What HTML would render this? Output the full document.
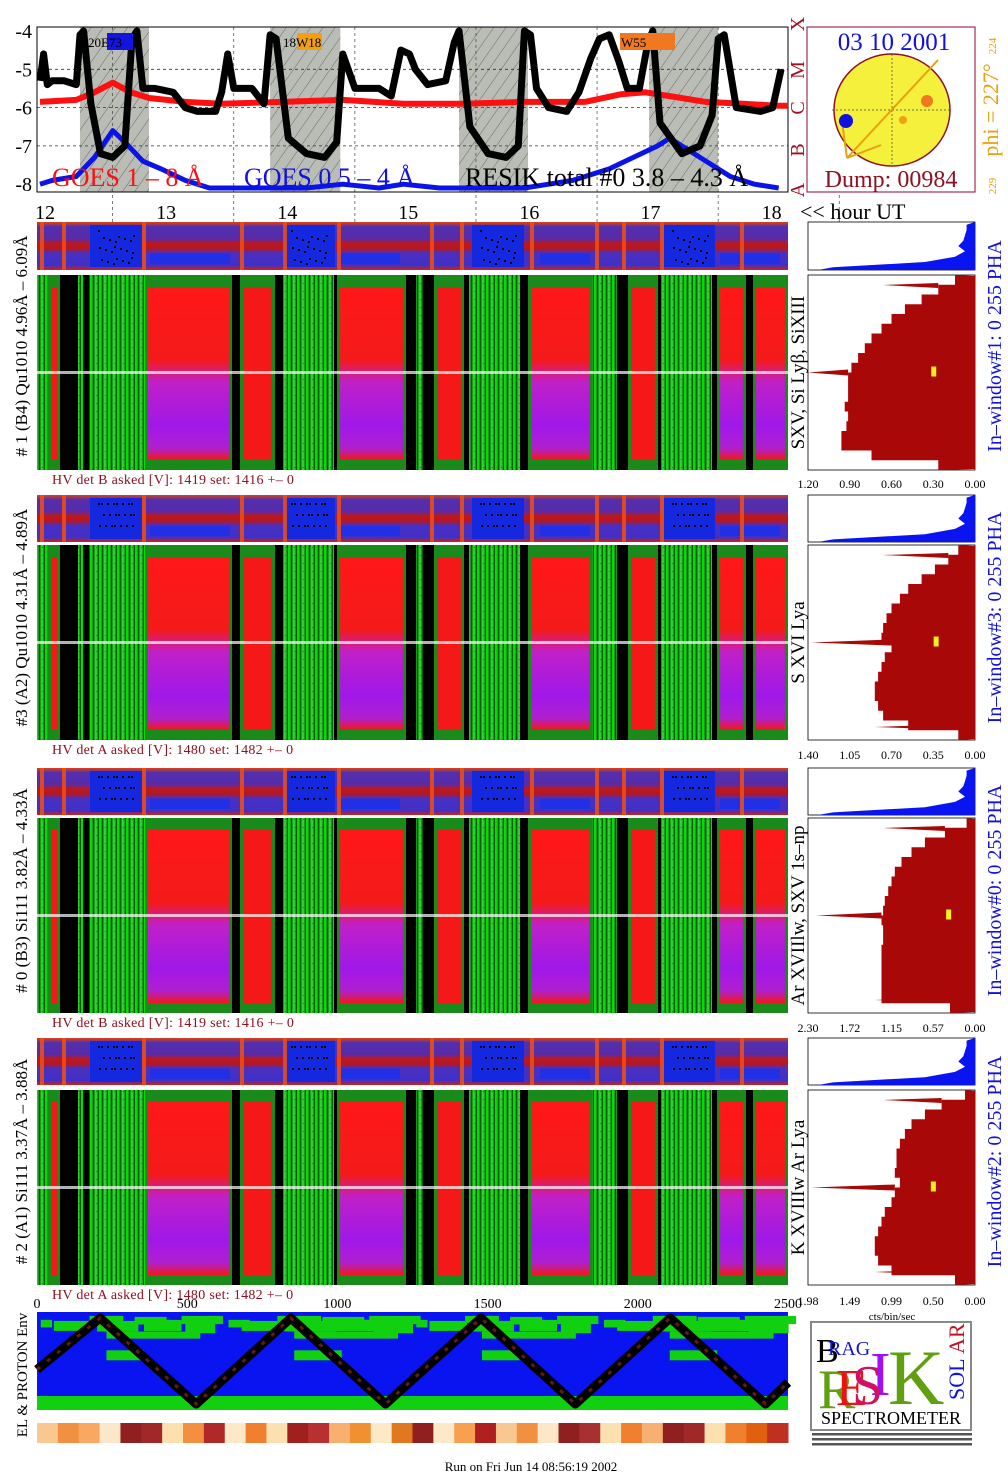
<!DOCTYPE html>
<html><head><meta charset="utf-8"><style>
html,body{margin:0;padding:0;background:#fff;}
svg{display:block;font-family:"Liberation Serif",serif;}
</style></head><body>
<svg id="s" width="1008" height="1480" viewBox="0 0 1008 1480" xmlns="http://www.w3.org/2000/svg">
<defs>
<pattern id="hatch" width="10" height="10" patternUnits="userSpaceOnUse" patternTransform="rotate(35)"><rect width="10" height="10" fill="#b9bdb5"/><line x1="0" y1="0" x2="0" y2="10" stroke="#555" stroke-width="0.8"/></pattern>
<pattern id="grn" width="9" height="8" patternUnits="userSpaceOnUse"><rect width="9" height="8" fill="#1a9a1a"/><rect x="0" width="2" height="8" fill="#00e000"/><rect x="3" width="1" height="8" fill="#005a00"/><rect x="5" width="2" height="8" fill="#30d030"/><rect x="8" width="1" height="8" fill="#0a5a0a"/><rect x="6" y="3" width="1" height="1" fill="#e02020"/></pattern>
<linearGradient id="redg" x1="0" y1="0" x2="0" y2="1"><stop offset="0" stop-color="#ff1818"/><stop offset="0.42" stop-color="#f41a1a"/><stop offset="0.55" stop-color="#c020c8"/><stop offset="0.8" stop-color="#a018e8"/><stop offset="0.93" stop-color="#b020d0"/><stop offset="1" stop-color="#f01818"/></linearGradient>
<linearGradient id="bandg" x1="0" y1="0" x2="0" y2="1"><stop offset="0" stop-color="#e04010"/><stop offset="0.1" stop-color="#5030b0"/><stop offset="0.35" stop-color="#5a2aa8"/><stop offset="0.45" stop-color="#c01818"/><stop offset="0.55" stop-color="#b01828"/><stop offset="0.65" stop-color="#4a30c0"/><stop offset="0.9" stop-color="#4030c8"/><stop offset="1" stop-color="#d02010"/></linearGradient>
</defs>
<g id="topgrp"></g>
<g id="panels"></g>
<g id="env"></g>
</svg>
<script>
const NS='http://www.w3.org/2000/svg';
const svg=document.getElementById('s');
function mk(tag,attrs,parent,txt){const el=document.createElementNS(NS,tag);for(const k in attrs)el.setAttribute(k,attrs[k]);if(txt!==undefined)el.textContent=txt;(parent||svg).appendChild(el);return el;}

const resikTimes=[12.0,12.03,12.06,12.1,12.2,12.3,12.33,12.36,12.42,12.5,12.6,12.7,12.76,12.8,12.85,12.95,13.1,13.2,13.3,13.45,13.5,13.55,13.6,13.75,13.85,13.9,13.95,14.05,14.2,14.35,14.45,14.5,14.6,14.8,14.9,14.98,15.05,15.1,15.2,15.35,15.42,15.46,15.55,15.7,15.85,15.95,16.0,16.05,16.1,16.2,16.35,16.45,16.55,16.62,16.7,16.78,16.85,16.95,17.02,17.06,17.12,17.3,17.45,17.55,17.6,17.65,17.75,17.95,18.05,18.12];
const resikValues=[-5.3,-4.6,-5.4,-5.3,-5.3,-5.4,-4.1,-4.0,-5.9,-7.2,-7.3,-7.0,-4.2,-4.0,-5.5,-5.5,-5.6,-6.0,-6.1,-6.1,-5.6,-4.6,-5.5,-5.5,-5.9,-4.1,-4.2,-6.8,-7.2,-7.3,-6.9,-4.6,-5.5,-5.5,-5.7,-4.5,-4.6,-5.0,-5.4,-5.3,-4.3,-4.0,-6.5,-7.2,-7.3,-7.0,-4.0,-4.1,-5.5,-6.0,-6.1,-5.6,-4.7,-4.2,-4.1,-4.8,-5.5,-5.5,-4.3,-4.0,-6.4,-7.2,-7.0,-6.2,-4.2,-4.1,-6.0,-6.1,-6.0,-5.0];
const goesLongTimes=[12.0,12.3,12.45,12.6,12.75,12.9,13.2,13.5,14.0,14.5,15.0,15.5,16.0,16.5,16.8,17.0,17.2,17.5,17.8,18.1,18.17];
const goesLongValues=[-5.85,-5.8,-5.6,-5.35,-5.6,-5.75,-5.85,-5.9,-5.85,-5.8,-5.9,-5.9,-5.85,-5.85,-5.65,-5.6,-5.7,-5.85,-5.9,-5.95,-5.95];
const goesShortTimes=[12.0,12.1,12.3,12.45,12.6,12.7,12.85,13.0,13.2,13.4,13.8,14.2,14.5,14.8,15.0,15.3,15.6,16.0,16.2,16.4,16.7,16.9,17.1,17.2,17.35,17.5,17.7,17.9,18.1];
const goesShortValues=[-8.0,-7.9,-7.8,-7.3,-6.6,-6.9,-7.4,-7.6,-7.9,-8.1,-8.1,-8.1,-8.0,-8.1,-8.0,-8.1,-8.1,-8.1,-8.0,-7.9,-7.6,-7.3,-7.0,-6.8,-7.1,-7.4,-7.8,-8.0,-8.1];
const yTicks=[-4,-5,-6,-7,-8];
const hourTicks=[12,13,14,15,16,17,18];
const shadedStarts=[12.33,13.9,15.46,17.03];
const shadedEnds=[12.9,14.48,16.03,17.6];

const T0=37,T1=788,TY0=27,TY1=192;
function xh(h){return 40+(h-12)*121.1;}
function yl(v){return 31+(-4-v)*38.3;}
const topG=document.getElementById('topgrp');
let e;
e=mk('rect',{x:T0,y:TY0,width:T1-T0,height:TY1-TY0,fill:'#fff'},topG);

for(let i=0;i<shadedStarts.length;i++){
 e=mk('rect',{x:xh(shadedStarts[i]),y:TY0,width:xh(shadedEnds[i])-xh(shadedStarts[i]),height:TY1-TY0,fill:'url(#hatch)'},topG);
 
}
yTicks.forEach(v=>{
 if(v>-8&&v<-4){e=mk('line',{x1:T0,x2:T1,y1:yl(v),y2:yl(v),stroke:'#333','stroke-dasharray':'3,3','stroke-width':0.8},topG);}
 e=mk('text',{x:32,y:yl(v)+7,'text-anchor':'end','font-size':20},topG,String(v));
 
});
hourTicks.forEach(h=>{
 e=mk('line',{x1:xh(h+0.6),x2:xh(h+0.6),y1:TY0,y2:222,stroke:'#444','stroke-dasharray':'3,3','stroke-width':0.7},topG);
 
 e=mk('text',{x:xh(h)+5,y:219,'text-anchor':'middle','font-size':20},topG,String(h));
 
});
function line(ts,vs,col,w,name){
 let d=ts.map((t,i)=>(i?'L':'M')+xh(t).toFixed(1)+','+Math.min(yl(vs[i]),TY1-2).toFixed(1)).join(' ');
 e=mk('path',{d:d,fill:'none',stroke:col,'stroke-width':w,'stroke-linejoin':'round'},topG);
 
}
line(goesLongTimes,goesLongValues,'#ff1010',6,'goes-long-line');
line(goesShortTimes,goesShortValues,'#0a14e8',5,'goes-short-line');
line(resikTimes,resikValues,'#000',7,'resik-total-line');
e=mk('rect',{x:T0,y:TY0,width:T1-T0,height:TY1-TY0,fill:'none',stroke:'#000','stroke-width':1},topG);

[[107,133,'#1414e0','S20E73',88],[297,322,'#f0a010','N18W18',283],[620,675,'#f07820','W55',621]].forEach(a=>{
 e=mk('rect',{x:a[0],y:33,width:a[1]-a[0],height:17,fill:a[2]},topG);
 e=mk('text',{x:a[4],y:47,'font-size':13},topG,a[3].slice(a[3].length>4?1:0));
});
e=mk('text',{x:52,y:186,'font-size':26,fill:'#ff1010'},topG,'GOES 1 – 8 Å');
e=mk('text',{x:244,y:186,'font-size':26,fill:'#1010e0'},topG,'GOES 0.5 – 4 Å');
e=mk('text',{x:465,y:186,'font-size':26,fill:'#000'},topG,'RESIK total #0  3.8 – 4.3 Å');
[['X',24],['M',70],['C',108],['B',150],['A',190]].forEach(c=>{
 e=mk('text',{x:0,y:0,'font-size':20,fill:'#a01020',transform:`translate(804,${c[1]}) rotate(-90)`,'text-anchor':'middle'},topG,c[0]);
 
});
e=mk('text',{x:800,y:219,'font-size':22},topG,'<< hour UT');
e=mk('rect',{x:807,y:27,width:168,height:165,fill:'#fff',stroke:'#a03050','stroke-width':1.2},topG);
e=mk('text',{x:894,y:50,'font-size':25,fill:'#1010e0','text-anchor':'middle'},topG,'03 10 2001');
e=mk('ellipse',{cx:892,cy:110,rx:58,ry:56,fill:'#f4f03c',stroke:'#901020','stroke-width':1.5},topG);
mk('line',{x1:832,x2:952,y1:110,y2:110,stroke:'#444','stroke-dasharray':'2,2','stroke-width':0.7},topG);
mk('line',{x1:892,x2:892,y1:54,y2:166,stroke:'#444','stroke-dasharray':'2,2','stroke-width':0.7},topG);
mk('path',{d:'M938,60 L847,158 L881,145 M847,158 L842,122',stroke:'#e8a010','stroke-width':2,fill:'none'},topG);
e=mk('circle',{cx:846,cy:121,r:7,fill:'#1010e0'},topG);
e=mk('circle',{cx:927,cy:101,r:6,fill:'#f07820'},topG);
e=mk('circle',{cx:903,cy:120,r:4,fill:'#f0a010'},topG);
e=mk('text',{x:891,y:187,'font-size':24,fill:'#901020','text-anchor':'middle'},topG,'Dump: 00984');
e=mk('text',{x:0,y:0,'font-size':22,fill:'#e8a010',transform:'translate(998,110) rotate(-90)','text-anchor':'middle'},topG,'phi = 227°');
mk('text',{x:0,y:0,'font-size':11,fill:'#e8a010',transform:'translate(996,46) rotate(-90)','text-anchor':'middle'},topG,'224');
mk('text',{x:0,y:0,'font-size':11,fill:'#e8a010',transform:'translate(996,186) rotate(-90)','text-anchor':'middle'},topG,'229');

const segStart=[37,48,60,78,83,89,145,232,240,275,283,334,337,406,416,423,434,464,469,520,528,592,617,628,658,661,712,717,746,753];
const segEnd  =[48,60,78,83,89,145,232,240,275,283,334,337,406,416,423,434,464,469,520,528,592,617,628,658,661,712,717,746,753,788];
const segType =['g','r','k','g','k','g','m','k','r','k','g','k','m','k','g','k','r','k','g','k','m','g','k','r','k','g','k','m','k','m'];
const bandBlueStart=[90,283,472,664];
const bandBlueEnd=[142,335,524,715];
const bandLines=[40,62,142,240,283,337,430,460,530,595,622,660,740];
const panelDefs=[
 {band:[222,270],main:[275,470],hv:'HV det B asked [V]:  1419 set:  1416  +–    0',left:'# 1 (B4) Qu1010 4.96Å – 6.09Å',right:'SXV, Si Lyβ, SiXIII',win:'In–window#1:   0 255  PHA',ticks:['1.20','0.90','0.60','0.30','0.00'],tickY:488,yel:0.3,ymax:1.2},
 {band:[495,542],main:[545,740],hv:'HV det A asked [V]:  1480 set:  1482  +–    0',left:'#3 (A2) Qu1010  4.31Å – 4.89Å',right:'S XVI Lya',win:'In–window#3:   0 255  PHA',ticks:['1.40','1.05','0.70','0.35','0.00'],tickY:759,yel:0.33,ymax:1.4},
 {band:[768,815],main:[818,1013],hv:'HV det B asked [V]:  1419 set:  1416  +–    0',left:'# 0 (B3) Si111  3.82Å – 4.33Å',right:'Ar XVIIlw,  SXV 1s–np',win:'In–window#0:   0 255  PHA',ticks:['2.30','1.72','1.15','0.57','0.00'],tickY:1032,yel:0.37,ymax:2.3},
 {band:[1038,1085],main:[1090,1285],hv:'HV det A asked [V]:  1480 set:  1482  +–    0',left:'# 2 (A1) Si111  3.37Å – 3.88Å',right:'K XVIIIw  Ar Lya',win:'In–window#2:   0 255  PHA',ticks:['1.98','1.49','0.99','0.50','0.00'],tickY:1305,yel:0.5,ymax:1.98}
];
const histProfile1=[0.12,0.22,0.32,0.42,0.5,0.56,0.62,0.66,0.7,0.74,0.76,0.76,0.76,0.78,0.76,0.77,0.8,0.8,0.62,0.22];
const histProfile2=[0.1,0.16,0.24,0.32,0.4,0.45,0.5,0.53,0.55,0.56,0.5,0.54,0.56,0.58,0.6,0.6,0.58,0.55,0.4,0.1];
const histProfile3=[0.05,0.18,0.3,0.38,0.44,0.48,0.5,0.52,0.54,0.55,0.56,0.55,0.55,0.56,0.56,0.56,0.56,0.56,0.56,0.15];
const histProfile4=[0.06,0.2,0.3,0.38,0.42,0.45,0.47,0.47,0.48,0.45,0.48,0.5,0.54,0.56,0.58,0.6,0.6,0.58,0.5,0.12];
const histProfiles=[histProfile1,histProfile2,histProfile3,histProfile4];
const spikeLen=[1.0,0.98,0.95,0.98];
const phaProfile=[0.05,0.05,0.06,0.07,0.1,0.06,0.12,0.3,0.85];

const pg=document.getElementById('panels');
panelDefs.forEach((p,pi)=>{
 const g=mk('g',{},pg);
 
 const [b0,b1]=p.band,[m0,m1]=p.main;
 e=mk('rect',{x:37,y:b0,width:751,height:b1-b0,fill:'url(#bandg)'},g);
 for(let i=0;i<bandBlueStart.length;i++){
  e=mk('rect',{x:bandBlueStart[i],y:b0+3,width:bandBlueEnd[i]-bandBlueStart[i],height:b1-b0-6,fill:'#1428e0'},g);
  for(let k=0;k<22;k++){mk('rect',{x:bandBlueStart[i]+8+(k*17)%36,y:b0+8+(k*11)%(b1-b0-14),width:2,height:2,fill:'#000'},g);}
 }
 [[150,230],[340,400],[540,590],[720,780]].forEach(r=>mk('rect',{x:r[0],y:b0+(b1-b0)*0.65,width:r[1]-r[0],height:(b1-b0)*0.22,fill:'#1830f0',opacity:0.8},g));
 bandLines.forEach(x=>mk('rect',{x:x,y:b0,width:4,height:b1-b0,fill:'#f05010',opacity:0.85},g));
 e=mk('rect',{x:37,y:m0,width:751,height:m1-m0,fill:'#000'},g);
 for(let i=0;i<segStart.length;i++){
  const t=segType[i],x=segStart[i],w=segEnd[i]-segStart[i];
  if(t==='k')continue;
  if(t==='g'){mk('rect',{x:x,y:m0,width:w,height:m1-m0,fill:'url(#grn)'},g);}
  else{
   mk('rect',{x:x,y:m0,width:w,height:m1-m0,fill:'#1a8a1a'},g);
   mk('rect',{x:x+3,y:m0+12,width:Math.max(w-6,1),height:m1-m0-22,fill:t==='m'?'url(#redg)':'#f41818'},g);
  }
 }
 mk('rect',{x:37,y:(m0+m1)/2-1.5,width:751,height:3,fill:'#fff',opacity:0.7},g);
 e=mk('text',{x:52,y:p.main[1]+14,'font-size':14,fill:'#901020','letter-spacing':'0.3'},g,p.hv);
 e=mk('text',{x:0,y:0,'font-size':17,transform:`translate(27,${(b0+m1)/2}) rotate(-90)`,'text-anchor':'middle'},g,p.left);
 e=mk('text',{x:0,y:0,'font-size':19,transform:`translate(804,${(m0+m1)/2}) rotate(-90)`,'text-anchor':'middle'},g,p.right);
 e=mk('text',{x:0,y:0,'font-size':20,fill:'#1010e0',transform:`translate(1001,${(b0+m1)/2}) rotate(-90)`,'text-anchor':'middle'},g,p.win);
 const HX0=808,HX1=975;
 e=mk('rect',{x:HX0,y:b0,width:HX1-HX0,height:b1-b0,fill:'#fff',stroke:'#000','stroke-width':0.8},g);
 let d='M'+HX1+','+b0;
 phaProfile.forEach((v,i)=>{const y=b0+(b1-b0)*(i+0.5)/phaProfile.length;d+=' L'+(HX1-v*(HX1-HX0)).toFixed(1)+','+y.toFixed(1);});
 d+=' L'+(HX0+10)+','+b1+' L'+HX1+','+b1+'Z';
 e=mk('path',{d:d,fill:'#0a14f0'},g);
 e=mk('rect',{x:HX0,y:m0,width:HX1-HX0,height:m1-m0,fill:'#fff',stroke:'#000','stroke-width':0.8},g);
 const prof=histProfiles[pi];const n=prof.length;const W=HX1-HX0;
 d='M'+HX1+','+(m0+1);
 prof.forEach((v,i)=>{const ya=m0+(m1-m0)*i/n,yb=m0+(m1-m0)*(i+1)/n;const x=HX1-v*W;d+=` L${x.toFixed(1)},${ya.toFixed(1)} L${x.toFixed(1)},${yb.toFixed(1)}`;});
 d+=' L'+HX1+','+(m1-1)+'Z';
 e=mk('path',{d:d,fill:'#a80808'},g);
 const ym=(m0+m1)/2;
 e=mk('path',{d:`M${HX1-prof[10]*W},${ym-3} L${HX1-spikeLen[pi]*W},${ym} L${HX1-prof[10]*W},${ym+3}Z`,fill:'#a80808'},g);
 mk('path',{d:`M${HX1-prof[1]*W},${m0+8} L${HX1-0.55*W},${m0+10} L${HX1-prof[1]*W},${m0+13}Z`,fill:'#a80808'},g);
 mk('path',{d:`M${HX1-prof[n-1]*W},${m1-16} L${HX1-0.6*W},${m1-13} L${HX1-prof[n-1]*W},${m1-10}Z`,fill:'#a80808'},g);
 e=mk('rect',{x:HX1-p.yel/p.ymax*W-2,y:ym-6,width:5,height:10,fill:'#f4f020'},g);
 p.ticks.forEach((t,i)=>{
  e=mk('text',{x:HX0+i*(W/4),y:p.tickY,'font-size':12,'text-anchor':'middle'},g,t);
 });
});
mk('text',{x:892,y:1320,'font-size':11,'text-anchor':'middle',fill:'#000'},svg,'cts/bin/sec');

const envTicks=[0,500,1000,1500,2000,2500];
const orbitSamples=[0,210,530,845,1160,1478,1792,2108,2425,2500];
const orbitLevels=[0.4,1,0,1,0,1,0,1,0,0.25];
const stripColors=['#f8c890','#f09040','#f8a860','#fce8c8','#902020','#a02828','#fce0b0','#f09040','#b02828','#fde8c8','#f08030','#fce0b0','#a02020','#b83030','#f8b070','#f09030','#fde8c8','#e07820','#902020','#fde8c8','#f8a050','#b02020','#f8c890','#f09040','#fce8c8','#902020','#a83030','#fce0b0','#f08030','#f8b070','#902020','#a02828','#fde0b0','#f08030','#e06010','#c03020'];
const EX0=37,EX1=788,EY0=1312,EY1=1410;
function xe(v){return EX0+v*(EX1-EX0)/2500;}
const env=document.getElementById('env');
e=mk('rect',{x:EX0,y:EY0,width:EX1-EX0,height:EY1-EY0,fill:'#0a14f0'},env);
[[0,0.08,0.06,0.3],[0.07,0.05,0.2,0.5],[0.26,0.04,0.18,0.25],[0.3,0.05,0.22,0.55],[0.5,0.05,0.17,0.3],[0.55,0.04,0.2,0.6],[0.75,0.04,0.22,0.35],[0.77,0.05,0.16,0.7],[0.35,0.2,0.5,0.25],[0.35,0.35,0.2,0.5]].forEach((r,i)=>{
 [0,1,2,3].forEach(k=>{
  const x0=EX0+(k*0.25+r[0]*0.25+0.005)*(EX1-EX0);
  mk('rect',{x:x0,y:EY0+r[1]*(EY1-EY0)+(i%2)*4,width:r[2]*0.25*(EX1-EX0)+(k%2)*10,height:r[3]*12+4,fill:'#10d010'},env);
 });
});
mk('rect',{x:EX0,y:EY1-14,width:EX1-EX0,height:14,fill:'#10d010'},env);
let od=orbitSamples.map((s,i)=>(i?'L':'M')+xe(s).toFixed(1)+','+(1404-orbitLevels[i]*86).toFixed(1)).join(' ');
e=mk('path',{d:od,fill:'none',stroke:'#000','stroke-width':9,'stroke-linejoin':'round'},env);
mk('path',{d:od,fill:'none',stroke:'#a03020','stroke-width':3,'stroke-dasharray':'4,9',opacity:0.6},env);
envTicks.forEach(v=>{e=mk('text',{x:xe(v),y:1308,'font-size':14,'text-anchor':'middle'},env,String(v));});
e=mk('text',{x:0,y:0,'font-size':15,transform:'translate(27,1375) rotate(-90)','text-anchor':'middle'},env,'EL & PROTON Env');
const sw=(EX1-EX0)/stripColors.length;
stripColors.forEach((c,i)=>{e=mk('rect',{x:EX0+i*sw,y:1423,width:sw+0.5,height:20,fill:c},env);});
e=mk('text',{x:531,y:1471,'font-size':13,'text-anchor':'middle'},env,'Run on Fri Jun 14 08:56:19 2002');
const lg=mk('g',{},env);
mk('rect',{x:811,y:1322,width:160,height:108,fill:'#fff',stroke:'#888','stroke-width':2},lg);
mk('text',{x:816,y:1362,'font-size':34,fill:'#000'},lg,'B');
mk('text',{x:828,y:1355,'font-size':20,fill:'#1010e0'},lg,'RAG');
mk('text',{x:818,y:1408,'font-size':56,fill:'#60a010'},lg,'R');
mk('text',{x:836,y:1405,'font-size':52,fill:'#f01010'},lg,'E');
mk('text',{x:870,y:1395,'font-size':62,fill:'#a010f0'},lg,'I');
mk('text',{x:852,y:1404,'font-size':56,fill:'#d01060'},lg,'S');
mk('text',{x:888,y:1404,'font-size':78,fill:'#60a010'},lg,'K');
mk('text',{x:0,y:0,'font-size':22,fill:'#1010e0',transform:'translate(964,1400) rotate(-90)'},lg,'SOL');
mk('text',{x:0,y:0,'font-size':22,fill:'#c01020',transform:'translate(964,1354) rotate(-90)'},lg,'AR');
mk('text',{x:891,y:1424,'font-size':18,'text-anchor':'middle'},lg,'SPECTROMETER');
[1435,1440,1445].forEach(y=>mk('rect',{x:812,y:y-2,width:160,height:2.5,fill:'#555'},lg));
</script>
</body></html>
